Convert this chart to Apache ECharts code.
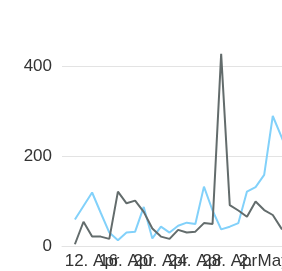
<!DOCTYPE html>
<html>
<head>
    <meta charset="utf-8">
    <title>Line chart</title>
    <script src="https://cdn.jsdelivr.net/npm/echarts@6/dist/echarts.min.js"></script>
    <style>
        body { margin: 0; background: #fff; }
    </style>
</head>
<body>
<div id="main" style="width: 282px;height:271px;"></div>
<script type="text/javascript">
    // one point per day, starting 10. Apr
    var days = ['10. Apr', '11. Apr', '12. Apr', '13. Apr', '14. Apr', '15. Apr', '16. Apr', '17. Apr',
        '18. Apr', '19. Apr', '20. Apr', '21. Apr', '22. Apr', '23. Apr', '24. Apr', '25. Apr',
        '26. Apr', '27. Apr', '28. Apr', '29. Apr', '30. Apr', '1. May', '2. May', '3. May',
        '4. May', '5. May'];
    var blueValues = [60, 90, 120, 75, 31, 14, 31, 33, 88, 18, 44, 31, 46, 53, 50, 133,
        80, 38, 44, 52, 122, 132, 159, 290, 244, 200];
    var grayValues = [5, 55, 22, 22, 17, 122, 96, 102, 77, 40, 22, 17, 37, 31, 33, 52,
        50, 428, 92, 80, 66, 100, 81, 70, 40, 30];
    // every 4th day gets a label; split in two sets so they can overlap like the original
    var tickDaysA = [2, 10, 18];
    var tickDaysB = [6, 14, 22];

    function pairs(vals) {
        return vals.map(function (v, i) { return [i, v]; });
    }

    var font = 'Liberation Sans, Arial, sans-serif';

    function dayAxis(ticks, showLine) {
        return {
            type: 'value',
            position: 'bottom',
            min: -1.5,
            max: 30,
            splitLine: { show: false },
            axisLine: { show: showLine, onZero: false, lineStyle: { color: '#e3e3e3', width: 1 } },
            axisTick: { show: false },
            axisLabel: {
                customValues: ticks,
                showMinLabel: true,
                showMaxLabel: true,
                margin: 6,
                fontSize: 17,
                fontFamily: font,
                color: '#333',
                hideOverlap: false,
                formatter: function (v) {
                    return days[Math.round(v)] || '';
                }
            }
        };
    }

    var option = {
        animation: false,
        grid: { left: 62, top: 53, width: 271, bottom: 24.5, outerBoundsMode: 'none', containLabel: false },
        xAxis: [dayAxis(tickDaysA, true), dayAxis(tickDaysB, false)],
        yAxis: {
            type: 'value',
            min: 0,
            max: 430,
            interval: 200,
            axisLine: { show: false },
            axisTick: { show: false },
            splitLine: { showMaxLine: false, lineStyle: { color: '#e3e3e3', width: 1 } },
            axisLabel: {
                showMaxLabel: false,
                margin: 10,
                fontSize: 17,
                fontFamily: font,
                color: '#333'
            }
        },
        series: [
            {
                name: 'blue',
                type: 'line',
                symbol: 'none',
                data: pairs(blueValues),
                lineStyle: { color: '#82d1fa', width: 2 }
            },
            {
                name: 'gray',
                type: 'line',
                symbol: 'none',
                data: pairs(grayValues),
                lineStyle: { color: '#636c6c', width: 2 }
            }
        ]
    };

    var myChart = echarts.init(document.getElementById('main'));
    myChart.setOption(option);
</script>
</body>
</html>
